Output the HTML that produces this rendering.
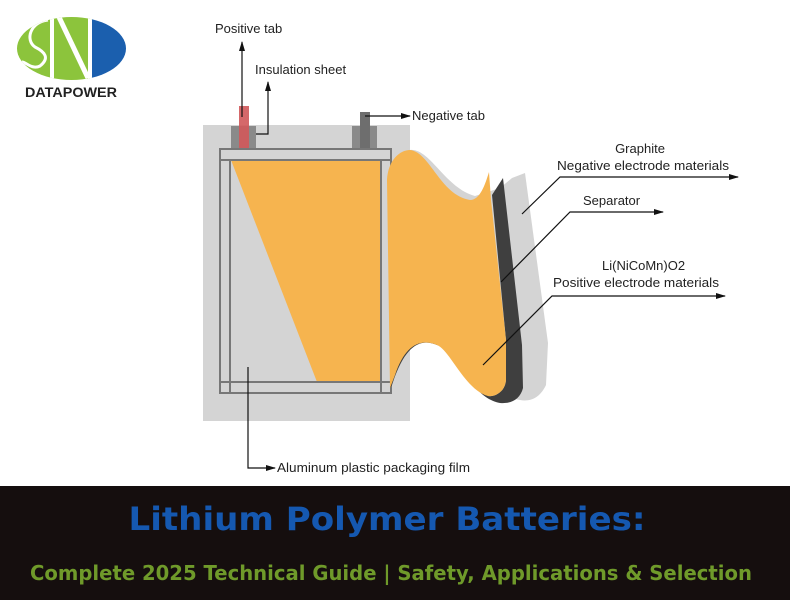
<!DOCTYPE html>
<html><head><meta charset="utf-8"><style>
html,body{margin:0;padding:0;background:#fff;width:790px;height:600px;overflow:hidden}
svg{display:block}
text{font-family:"Liberation Sans",sans-serif}
</style></head><body>
<svg width="790" height="600" viewBox="0 0 790 600" xmlns="http://www.w3.org/2000/svg">
<defs>
<marker id="ar" markerWidth="10" markerHeight="8" refX="9" refY="4" orient="auto" markerUnits="userSpaceOnUse"><path d="M0,1 L10,4 L0,7 Z" fill="#111"/></marker>
<clipPath id="el"><ellipse cx="71.5" cy="48.5" rx="54.5" ry="31.5"/></clipPath>
</defs>
<!-- logo -->
<g clip-path="url(#el)">
<rect x="15" y="15" width="77" height="70" fill="#8cc43c"/>
<rect x="92" y="15" width="36" height="70" fill="#1b5fae"/>
<rect x="88" y="15" width="4" height="70" fill="#fff"/>
<rect x="50" y="15" width="4" height="70" fill="#fff"/>
<path d="M58,15 L88,78" stroke="#fff" stroke-width="5"/>
<path d="M92,36 L118,36" stroke="#fff" stroke-width="0"/>
<path d="M48,20 C30,22 25,40 35,47 C45,52 50,58 40,66 C32,70 26,62 22,62" stroke="#fff" stroke-width="3" fill="none"/>
</g>
<text x="71" y="97" font-size="13.5" font-weight="bold" fill="#222" text-anchor="middle" textLength="92" lengthAdjust="spacingAndGlyphs">DATAPOWER</text>

<!-- pouch -->
<rect x="203" y="125" width="207" height="296" fill="#d4d4d4"/>
<rect x="231" y="126" width="25" height="22" fill="#8a8a8a"/>
<rect x="239" y="106" width="10" height="42" fill="#d0585a" opacity="0.9"/>
<rect x="352" y="126" width="25" height="22" fill="#8a8a8a"/>
<rect x="360" y="112" width="10" height="36" fill="#6e6e6e"/>
<polygon points="231,160 381,160 381,382 317,382" fill="#f6b44f"/>
<g fill="none" stroke="#777" stroke-width="2">
<rect x="220" y="149" width="171" height="244"/>
<line x1="220" y1="160" x2="391" y2="160"/>
<line x1="220" y1="382" x2="391" y2="382"/>
<line x1="230" y1="160" x2="230" y2="393"/>
<line x1="381" y1="160" x2="381" y2="393"/>
</g>

<!-- wavy layers -->
<path d="M410,150 C430,148 445,188 475,196 L500,188 L512,178 L525,173 L548,343 L546,385 C540,398 530,402 520,400 L495,395 Z" fill="#d4d4d4"/>
<path d="M492,195 L503,178 L522,345 L523,388 C520,400 510,404 500,403 C490,401 480,395 470,380 L488,396 C495,397 505,392 506,380 L506,340 Z" fill="#3f3f3f"/>
<path d="M390,388 C400,350 420,332 437,335 C452,338 462,358 472,382 C458,360 448,348 437,345 C420,338 405,345 392,385 Z" fill="#3f3f3f"/>
<path d="M387,180 C388,160 400,150 410,150 C430,152 440,195 470,200 C480,200 485,185 489,172 L491,200 L506,340 L506,380 C505,392 495,397 488,396 C465,390 450,350 437,345 C420,338 405,345 395,375 L390,388 Z" fill="#f6b44f"/>

<!-- connectors -->
<g stroke="#111" stroke-width="1.2" fill="none">
<line x1="242" y1="117" x2="242" y2="42" marker-end="url(#ar)"/>
<polyline points="256,134 268,134 268,82" marker-end="url(#ar)"/>
<line x1="365" y1="116" x2="410" y2="116" marker-end="url(#ar)"/>
<polyline points="248,367 248,468 275,468" marker-end="url(#ar)"/>
<polyline points="522,214 560,177 738,177" marker-end="url(#ar)"/>
<polyline points="501,282 570,212 663,212" marker-end="url(#ar)"/>
<polyline points="483,365 552,296 725,296" marker-end="url(#ar)"/>
</g>
<g font-size="13" fill="#222">
<text x="215" y="33">Positive tab</text>
<text x="255" y="74">Insulation sheet</text>
<text x="412" y="120">Negative tab</text>
<text x="640" y="153" text-anchor="middle">Graphite</text>
<text x="557" y="170" textLength="172" lengthAdjust="spacingAndGlyphs">Negative electrode materials</text>
<text x="583" y="205">Separator</text>
<text x="602" y="270">Li(NiCoMn)O2</text>
<text x="553" y="287" textLength="166" lengthAdjust="spacingAndGlyphs">Positive electrode materials</text>
<text x="277" y="472" textLength="193" lengthAdjust="spacingAndGlyphs">Aluminum plastic packaging film</text>
</g>

<!-- banner -->
<rect x="0" y="486" width="790" height="114" fill="#150e0e"/>
<text x="387" y="530" font-size="32" font-weight="bold" fill="#1558b0" text-anchor="middle" textLength="517" lengthAdjust="spacingAndGlyphs" style="font-family:'DejaVu Sans',sans-serif">Lithium Polymer Batteries:</text>
<text x="391" y="580" font-size="20" font-weight="bold" fill="#6f9a2a" text-anchor="middle" textLength="722" lengthAdjust="spacingAndGlyphs" style="font-family:'DejaVu Sans',sans-serif">Complete 2025 Technical Guide | Safety, Applications &amp; Selection</text>
</svg>
</body></html>
